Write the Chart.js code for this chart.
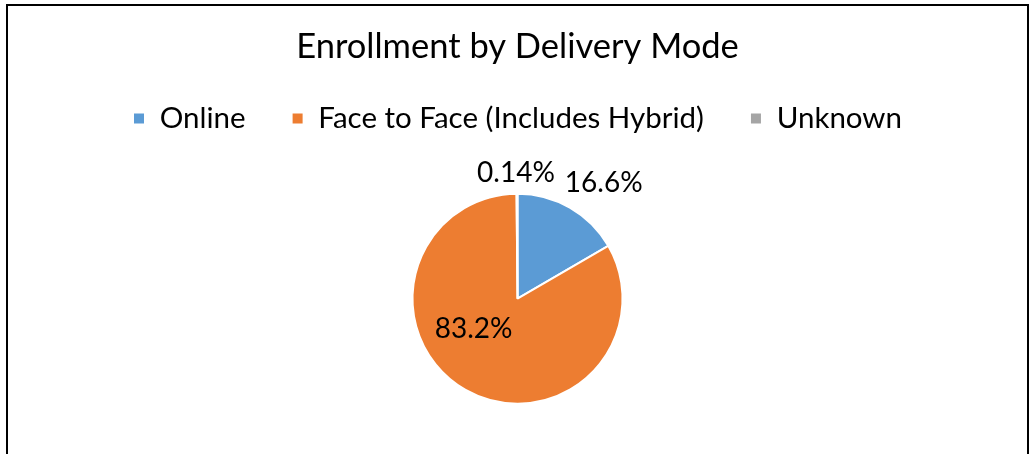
<!DOCTYPE html>
<html>
<head>
<meta charset="utf-8">
<script src="https://cdn.jsdelivr.net/npm/chart.js@4"></script>
<style>
  html, body { margin: 0; padding: 0; background: #fff; overflow: hidden; }
  #frame {
    position: absolute; left: 6px; top: 4px; width: 1023px; height: 600px;
    box-sizing: border-box; border: 2px solid #000; border-bottom: none;
  }
  #wrap { position: absolute; left: 0; top: 0; width: 1030px; height: 454px; }
</style>
</head>
<body>
<div id="frame"></div>
<div id="wrap"><canvas id="pie"></canvas></div>
<script>
const categories = ['Online', 'Face to Face (Includes Hybrid)', 'Unknown']
const shares = [16.6, 83.2, 0.14]
const shareLabels = ['16.6%', '83.2%', '0.14%']
const colors = ['#5B9BD5', '#ED7D31', '#A5A5A5']

const FONT = 'Lato, "Open Sans", sans-serif'

// Excel-ish data labels: small slices go outside, the big one sits inside
const sliceLabels = {
  id: 'sliceLabels',
  afterDatasetsDraw(chart) {
    const ctx = chart.ctx
    const arcs = chart.getDatasetMeta(0).data
    ctx.save()
    ctx.font = '28px ' + FONT
    ctx.fillStyle = '#000'
    ctx.textBaseline = 'alphabetic'
    arcs.forEach((arc, i) => {
      const {x, y, startAngle, endAngle, outerRadius} = arc.getProps(['x', 'y', 'startAngle', 'endAngle', 'outerRadius'], true)
      const mid = (startAngle + endAngle) / 2
      const cos = Math.cos(mid), sin = Math.sin(mid)
      let px, py
      if (i === 1) {
        // inside the big slice
        px = x + cos * outerRadius * 0.5 - 18
        py = y + sin * outerRadius * 0.5 - 6
        ctx.textAlign = 'center'
      } else {
        const r = outerRadius + 12
        px = x + cos * r
        py = y + sin * r
        if (Math.abs(cos) < 0.2) {
          ctx.textAlign = 'center'
          px -= 1
        } else {
          ctx.textAlign = cos > 0 ? 'left' : 'right'
          px -= 11
          py -= 5
        }
      }
      ctx.fillText(shareLabels[i], px, py)
    })
    ctx.restore()
  }
}

new Chart(document.getElementById('pie'), {
  type: 'pie',
  data: {
    labels: categories,
    datasets: [{
      data: shares,
      backgroundColor: colors,
      borderColor: '#fff',
      borderWidth: 2
    }]
  },
  options: {
    responsive: true,
    maintainAspectRatio: false,
    animation: false,
    radius: 105,
    layout: { padding: { left: 5, bottom: -4 } },
    plugins: {
      title: {
        display: true,
        text: 'Enrollment by Delivery Mode',
        color: '#000',
        font: { family: FONT, size: 34.5, weight: 'normal', lineHeight: 0.632 },
        padding: { top: 36, bottom: 0 }
      },
      legend: {
        position: 'top',
        labels: {
          color: '#000',
          font: { family: FONT, size: 29.5 },
          boxWidth: 12,
          boxHeight: 12,
          padding: 46
        }
      },
      tooltip: { enabled: false }
    }
  },
  plugins: [sliceLabels]
})
</script>
</body>
</html>
